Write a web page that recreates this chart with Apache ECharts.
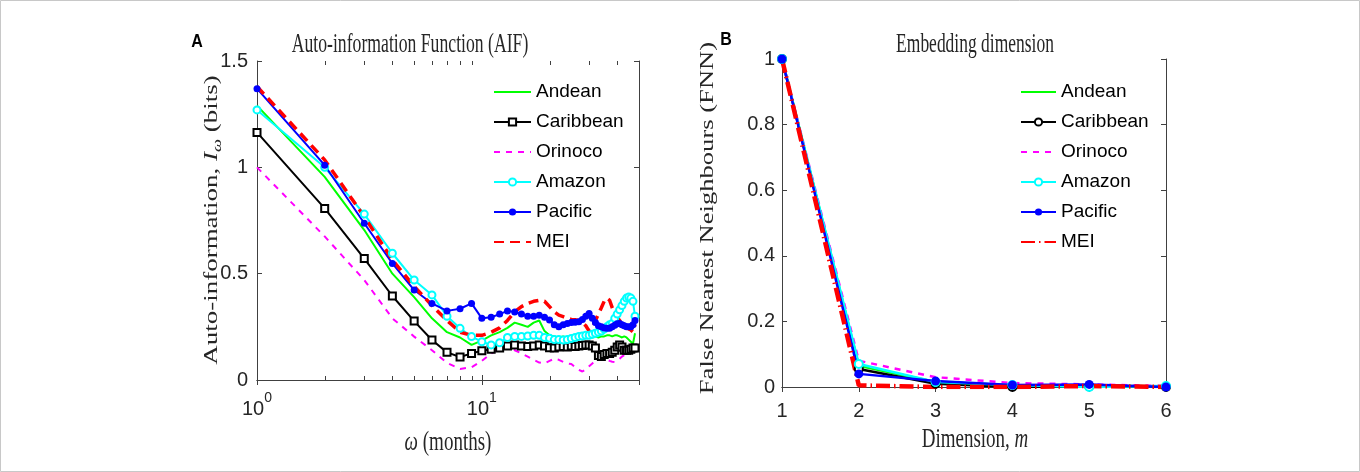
<!DOCTYPE html>
<html>
<head>
<meta charset="utf-8">
<script src="https://cdn.jsdelivr.net/npm/echarts@6/dist/echarts.min.js"></script>
<style>
  html, body { margin: 0; padding: 0; background: #fff; }
  #chart { width: 1360px; height: 472px; }
</style>
</head>
<body>
<div id="chart"></div>
<script>
// panel A: auto-information vs lag (months)
const months = [1, 2, 3, 4, 5, 6, 7, 8, 9, 10, 11, 12, 13, 14, 15, 16, 17, 18, 19, 20, 21, 22, 23, 24,
  25, 26, 27, 28, 29, 30, 31, 32, 33, 34, 35, 36, 37, 38, 39, 40, 41, 42, 43, 44, 45, 46, 47, 48];
const aifAndean = [1.29, 0.955, 0.705, 0.50, 0.39, 0.29, 0.225, 0.20, 0.165, 0.185, 0.21, 0.225, 0.245, 0.27, 0.26, 0.25,
  0.27, 0.28, 0.23, 0.21, 0.205, 0.20, 0.205, 0.20, 0.20, 0.205, 0.205, 0.21, 0.21, 0.21, 0.20, 0.205,
  0.20, 0.205, 0.205, 0.21, 0.21, 0.205, 0.21, 0.21, 0.205, 0.20, 0.205, 0.20, 0.19, 0.18, 0.17, 0.22];
const aifCaribbean = [1.164, 0.807, 0.571, 0.395, 0.277, 0.188, 0.13, 0.108, 0.125, 0.138, 0.145, 0.15, 0.16, 0.165, 0.16, 0.157,
  0.16, 0.165, 0.16, 0.152, 0.15, 0.155, 0.157, 0.155, 0.16, 0.157, 0.16, 0.162, 0.165, 0.165, 0.16, 0.15,
  0.115, 0.11, 0.12, 0.125, 0.125, 0.13, 0.14, 0.155, 0.165, 0.155, 0.14, 0.14, 0.14, 0.145, 0.15, 0.15];
const aifOrinoco = [1.0, 0.675, 0.47, 0.29, 0.204, 0.14, 0.08, 0.052, 0.06, 0.09, 0.125, 0.148, 0.15, 0.14, 0.125, 0.11,
  0.095, 0.082, 0.078, 0.09, 0.10, 0.095, 0.085, 0.078, 0.075, 0.06, 0.048, 0.04, 0.05, 0.065, 0.078, 0.09,
  0.10, 0.108, 0.105, 0.098, 0.09, 0.086, 0.085, 0.09, 0.10, 0.11, 0.117, 0.12, 0.13, 0.14, 0.145, 0.165];
const aifAmazon = [1.27, 1.0, 0.78, 0.596, 0.47, 0.40, 0.30, 0.243, 0.204, 0.18, 0.165, 0.175, 0.20, 0.205, 0.205, 0.207,
  0.21, 0.21, 0.20, 0.196, 0.19, 0.19, 0.188, 0.19, 0.195, 0.20, 0.205, 0.207, 0.21, 0.21, 0.215, 0.22,
  0.225, 0.23, 0.24, 0.25, 0.26, 0.266, 0.29, 0.31, 0.33, 0.35, 0.37, 0.385, 0.39, 0.385, 0.37, 0.30];
const aifPacific = [1.37, 1.01, 0.737, 0.548, 0.423, 0.36, 0.325, 0.335, 0.36, 0.29, 0.295, 0.31, 0.325, 0.32, 0.31, 0.30,
  0.30, 0.305, 0.295, 0.282, 0.26, 0.25, 0.26, 0.266, 0.27, 0.272, 0.274, 0.285, 0.30, 0.313, 0.29, 0.27,
  0.255, 0.25, 0.245, 0.243, 0.243, 0.25, 0.258, 0.265, 0.266, 0.26, 0.255, 0.25, 0.25, 0.25, 0.26, 0.28];
const aifMEI = [1.38, 1.035, 0.768, 0.565, 0.44, 0.35, 0.28, 0.225, 0.21, 0.21, 0.225, 0.245, 0.28, 0.32, 0.345, 0.36,
  0.37, 0.375, 0.37, 0.345, 0.32, 0.305, 0.298, 0.29, 0.285, 0.283, 0.28, 0.27, 0.255, 0.23, 0.24, 0.28,
  0.31, 0.34, 0.37, 0.385, 0.375, 0.34, 0.31, 0.295, 0.28, 0.265, 0.255, 0.25, 0.24, 0.235, 0.227, 0.26];

// panel B: false nearest neighbours vs embedding dimension
const dims = [1, 2, 3, 4, 5, 6];
const fnnAndean = [1, 0.065, 0.015, 0.005, 0.004, 0.002];
const fnnCaribbean = [1, 0.055, 0.010, 0.0, 0.002, 0.0];
const fnnOrinoco = [1, 0.080, 0.030, 0.012, 0.008, 0.003];
const fnnAmazon = [1, 0.070, 0.015, 0.006, 0.0, 0.003];
const fnnPacific = [1, 0.040, 0.018, 0.006, 0.008, 0.0];
const fnnMEI = [1, 0.005, 0.0, 0.0, 0.003, 0.0];

const regionNames = ['Andean', 'Caribbean', 'Orinoco', 'Amazon', 'Pacific', 'MEI'];
const minorLogTicks = [2, 3, 4, 5, 6, 7, 8, 9, 20, 30, 40];

const axisColor = '#404040';
const sansFont = "'Liberation Sans', Arial, Helvetica, sans-serif";
const serifFont = "'Liberation Serif', 'DejaVu Serif', serif";

const gridA = { left: 257, top: 61, width: 382, height: 319 };
const gridB = { left: 782, top: 59, width: 384, height: 328 };

function pairs(xs, ys) {
  return xs.map((x, i) => [x, ys[i]]);
}

const tickLabel = { fontFamily: sansFont, fontSize: 20, color: '#262626' };

function boxAxis(extra) {
  return Object.assign({
    axisLine: { show: true, lineStyle: { color: axisColor, width: 1 } },
    axisTick: { show: true, inside: true, length: 5, lineStyle: { color: axisColor } },
    splitLine: { show: false },
    axisLabel: { show: false }
  }, extra);
}

// series style per region
const styleA = {
  Andean: { color: '#00ff00', lineStyle: { width: 2 }, symbol: 'none' },
  Caribbean: { color: '#000000', lineStyle: { width: 2 }, symbol: 'emptyRect', symbolSize: 7 },
  Orinoco: { color: '#ff00ff', lineStyle: { width: 2, type: [6, 6] }, symbol: 'none' },
  Amazon: { color: '#00ffff', lineStyle: { width: 2 }, symbol: 'emptyCircle', symbolSize: 7 },
  Pacific: { color: '#0000ff', lineStyle: { width: 2 }, symbol: 'circle', symbolSize: 7 },
  MEI: { color: '#ff0000', lineStyle: { width: 3.5, type: [10, 6] }, symbol: 'none' }
};
const styleB = {
  Andean: { color: '#00ff00', lineStyle: { width: 2.5 }, symbol: 'none' },
  Caribbean: { color: '#000000', lineStyle: { width: 2.5 }, symbol: 'emptyCircle', symbolSize: 8 },
  Orinoco: { color: '#ff00ff', lineStyle: { width: 2.5, type: [6, 6] }, symbol: 'none' },
  Amazon: { color: '#00ffff', lineStyle: { width: 2.5 }, symbol: 'emptyCircle', symbolSize: 8 },
  Pacific: { color: '#0000ff', lineStyle: { width: 2.5 }, symbol: 'circle', symbolSize: 9 },
  MEI: { color: '#ff0000', lineStyle: { width: 4.5, type: [14, 4, 1.5, 4] }, symbol: 'none' }
};

const aifData = [aifAndean, aifCaribbean, aifOrinoco, aifAmazon, aifPacific, aifMEI];
const fnnData = [fnnAndean, fnnCaribbean, fnnOrinoco, fnnAmazon, fnnPacific, fnnMEI];

function makeSeries(name, s, xs, ys, axisIdx) {
  return {
    name: name, type: 'line', xAxisIndex: axisIdx, yAxisIndex: axisIdx,
    data: pairs(xs, ys),
    color: s.color, symbol: s.symbol, symbolSize: s.symbolSize || 0, showSymbol: s.symbol !== 'none',
    itemStyle: { color: s.color, borderWidth: 1.5 },
    lineStyle: Object.assign({ color: s.color }, s.lineStyle),
    animation: false, silent: true
  };
}

const series = [];
regionNames.forEach((name, k) => series.push(makeSeries(name, styleA[name], months, aifData[k], 0)));
regionNames.forEach((name, k) => series.push(makeSeries('B:' + name, styleB[name], dims, fnnData[k], 2)));

function legendAt(left, prefix, styles, width) {
  return {
    orient: 'vertical', left: left, top: 81, padding: 0,
    itemWidth: width, itemHeight: 9, itemGap: 8, itemTextGap: 3,
    selectedMode: false,
    data: regionNames.map(n => {
      const item = { name: prefix + n };
      // lines without markers: keep only the line in the key
      if (styles[n].symbol === 'none') item.itemStyle = { opacity: 0 };
      return item;
    }),
    formatter: n => n.replace(/^B:/, ''),
    textStyle: { fontFamily: sansFont, fontSize: 19, color: '#000', lineHeight: 22 }
  };
}

const option = {
  backgroundColor: '#fff',
  animation: false,
  grid: [gridA, gridB],
  legend: [
    legendAt(493, '', styleA, 37),
    legendAt(1020, 'B:', styleB, 35)
  ],
  xAxis: [
    boxAxis({
      gridIndex: 0, type: 'log', logBase: 10, min: 1, max: 50, position: 'bottom',
      axisLabel: {
        show: true, margin: 11,
        formatter: v => {
          const e = Math.log10(v);
          return Math.abs(e - Math.round(e)) < 1e-6 ? '{b|10}{s|' + Math.round(e) + '}' : '';
        },
        rich: {
          b: Object.assign({ lineHeight: 28, verticalAlign: 'bottom' }, tickLabel),
          s: { fontFamily: sansFont, fontSize: 14, color: '#262626', lineHeight: 28, verticalAlign: 'top' }
        }
      }
    }),
    boxAxis({ gridIndex: 0, type: 'log', logBase: 10, min: 1, max: 50, position: 'top' }),
    boxAxis({
      gridIndex: 1, type: 'value', min: 1, max: 6, interval: 1, position: 'bottom',
      axisLabel: Object.assign({ show: true, margin: 14 }, tickLabel)
    }),
    boxAxis({ gridIndex: 1, type: 'value', min: 1, max: 6, interval: 1, position: 'top' })
  ],
  yAxis: [
    boxAxis({
      gridIndex: 0, type: 'value', min: 0, max: 1.5, interval: 0.5, position: 'left',
      axisLabel: Object.assign({ show: true, margin: 9 }, tickLabel)
    }),
    boxAxis({ gridIndex: 0, type: 'value', min: 0, max: 1.5, interval: 0.5, position: 'right' }),
    boxAxis({
      gridIndex: 1, type: 'value', min: 0, max: 1, interval: 0.2, position: 'left',
      axisLabel: Object.assign({ show: true, margin: 7 }, tickLabel)
    }),
    boxAxis({ gridIndex: 1, type: 'value', min: 0, max: 1, interval: 0.2, position: 'right' })
  ],
  series: series
};

// serif labels are tall and narrow in the original, so they are stretched along their height
const serifRich = {
  n: { fontFamily: serifFont, fontSize: 19, fill: '#262626' },
  i: { fontFamily: serifFont, fontSize: 19, fontStyle: 'italic', fill: '#262626' },
  sub: { fontFamily: serifFont, fontSize: 13, fontStyle: 'italic', fill: '#262626', verticalAlign: 'bottom', lineHeight: 24 }
};
function serifText(x, y, text, opts) {
  return Object.assign({
    type: 'text', x: x, y: y, silent: true,
    style: { text: text, rich: serifRich, font: '19px ' + serifFont, fill: '#262626', align: 'center', verticalAlign: 'middle' }
  }, opts);
}

const baseGraphic = [
  { type: 'rect', shape: { x: 0.5, y: 0.5, width: 1359, height: 471 }, style: { fill: 'none', stroke: '#c8c8c8', lineWidth: 1 }, silent: true },
  { type: 'text', x: 197, y: 42, scaleY: 1.2, silent: true, style: { text: 'A', font: 'bold 16px ' + sansFont, fill: '#000', align: 'center', verticalAlign: 'middle' } },
  { type: 'text', x: 726, y: 40, scaleY: 1.2, silent: true, style: { text: 'B', font: 'bold 16px ' + sansFont, fill: '#000', align: 'center', verticalAlign: 'middle' } },
  serifText(410, 45, '{n|Auto-information Function (AIF)}', { scaleX: 0.93, scaleY: 1.4 }),
  serifText(975, 45, '{n|Embedding dimension}', { scaleX: 0.92, scaleY: 1.4 }),
  serifText(448, 443, '{i|ω}{n| (months)}', { scaleX: 1.0, scaleY: 1.4 }),
  serifText(975, 440, '{n|Dimension, }{i|m}', { scaleX: 1.0, scaleY: 1.4 }),
  serifText(212, 220, '{n|Auto-information, }{i|I}{sub|ω}{n| (bits)}', { rotation: Math.PI / 2, scaleX: 1.42, scaleY: 1.0 }),
  serifText(708, 218, '{n|False Nearest Neighbours (FNN)}', { rotation: Math.PI / 2, scaleX: 1.4, scaleY: 1.0 })
];

const chart = echarts.init(document.getElementById('chart'), null, { renderer: 'canvas' });
chart.setOption(option);

// minor ticks of the log axis, placed through the axis scale
const minorMarks = [];
const yBottom = gridA.top + gridA.height;
minorLogTicks.forEach(v => {
  const x = Math.round(chart.convertToPixel({ xAxisIndex: 0 }, v)) + 0.5;
  minorMarks.push({ type: 'line', silent: true, shape: { x1: x, y1: yBottom, x2: x, y2: yBottom - 4 }, style: { stroke: axisColor, lineWidth: 1 } });
  minorMarks.push({ type: 'line', silent: true, shape: { x1: x, y1: gridA.top, x2: x, y2: gridA.top + 4 }, style: { stroke: axisColor, lineWidth: 1 } });
});
chart.setOption({ graphic: baseGraphic.concat(minorMarks) });

window.addEventListener('resize', () => {
  chart.resize();
});
</script>
</body>
</html>
